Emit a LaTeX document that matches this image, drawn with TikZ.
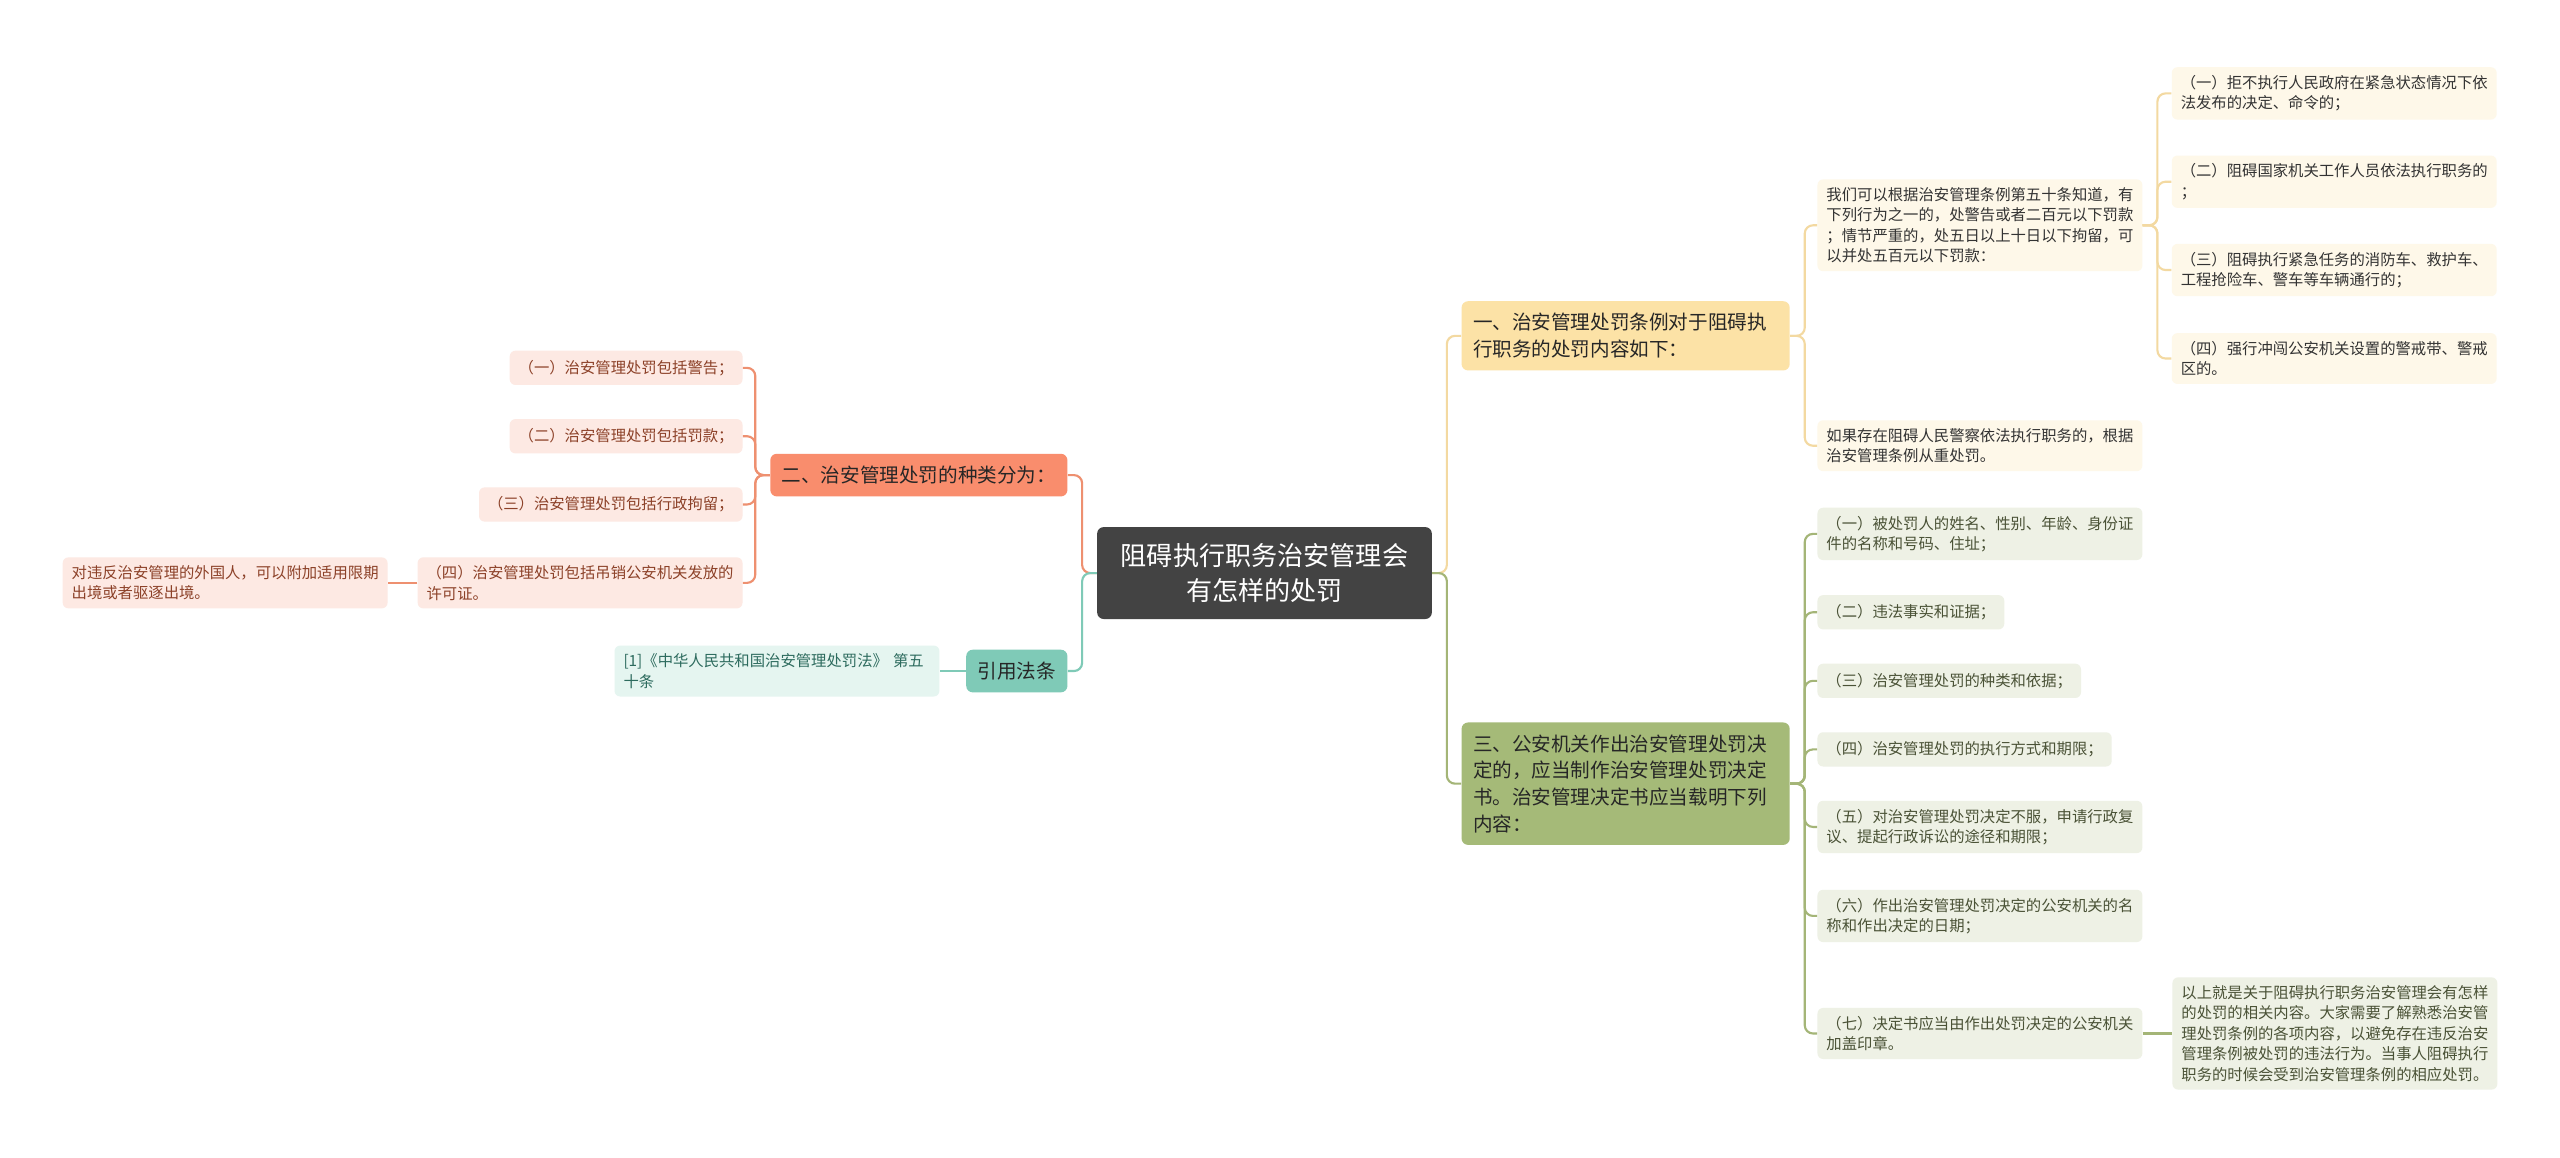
\documentclass[tikz,border=0pt]{standalone}
\usepackage{fontspec}
\setmainfont{Noto Sans CJK SC}
\usepackage{tikz}
\usetikzlibrary{positioning}
\definecolor{rootgray}{HTML}{434343}
\definecolor{ytopic}{HTML}{FCE2A6}
\definecolor{yleaf}{HTML}{FEF8E9}
\definecolor{yline}{HTML}{F3D9A1}
\definecolor{otopic}{HTML}{A5BA78}
\definecolor{oleaf}{HTML}{EEF1E5}
\definecolor{oline}{HTML}{A4B577}
\definecolor{otext}{HTML}{4A5236}
\definecolor{stopic}{HTML}{F98D6D}
\definecolor{sleaf}{HTML}{FDE9E3}
\definecolor{sline}{HTML}{EE9070}
\definecolor{stext}{HTML}{8C4128}
\definecolor{ttopic}{HTML}{7FCAB7}
\definecolor{tleaf}{HTML}{E5F5F0}
\definecolor{ttext}{HTML}{2D6B5E}

\begin{document}
\begin{tikzpicture}[x=1pt, y=-1pt,
	rootbox/.style={fill=rootgray, text=white, rounded corners=4pt, align=center, text width=177pt,
		inner xsep=14pt, inner ysep=10pt, font=\fontsize{16}{21.5}\selectfont},
	topic/.style={rounded corners=4pt, align=left, inner xsep=7pt, inner ysep=7.5pt, minimum height=26pt,
		text=black!85, font=\fontsize{12}{16.3}\selectfont},
	leaf/.style={rounded corners=3.5pt, align=left, inner xsep=5.5pt, inner ysep=5pt, minimum height=21pt,
		font=\fontsize{9.4}{12.5}\selectfont},
	wide/.style={text width=188pt},
	rtree/.style={draw=#1, line width=1.3pt, rounded corners=5pt, to path={-- ++(9pt,0) |- (\tikztotarget)}},
	ltree/.style={draw=#1, line width=1.3pt, rounded corners=5pt, to path={-- ++(-9pt,0) |- (\tikztotarget)}}]
	\fill[white] (0,0) rectangle (1568,709);
	
	\node[rootbox] (0) at (774.5,351) {阻碍执行职务治安管理会\\有怎样的处罚};
	
	\node[topic, fill=ytopic, text width=187pt, anchor=west] (1) at (895,205.7) {一、治安管理处罚条例对于阻碍执\\行职务的处罚内容如下：};
	\node[leaf, wide, fill=yleaf, text=black!80, anchor=west] (11) at (1113,138) {我们可以根据治安管理条例第五十条知道，有\\下列行为之一的，处警告或者二百元以下罚款\\；情节严重的，处五日以上十日以下拘留，可\\以并处五百元以下罚款：};
	\node[leaf, wide, fill=yleaf, text=black!80, anchor=west] (12) at (1113,273) {如果存在阻碍人民警察依法执行职务的，根据\\治安管理条例从重处罚。};
	\node[leaf, wide, fill=yleaf, text=black!80, anchor=west] (111) at (1330,57.2) {（一）拒不执行人民政府在紧急状态情况下依\\法发布的决定、命令的；};
	\node[leaf, wide, fill=yleaf, text=black!80, anchor=west] (112) at (1330,111.3) {（二）阻碍国家机关工作人员依法执行职务的\\；};
	\node[leaf, wide, fill=yleaf, text=black!80, anchor=west] (113) at (1330,165.4) {（三）阻碍执行紧急任务的消防车、救护车、\\工程抢险车、警车等车辆通行的；};
	\node[leaf, wide, fill=yleaf, text=black!80, anchor=west] (114) at (1330,219.6) {（四）强行冲闯公安机关设置的警戒带、警戒\\区的。};
	
	\node[topic, fill=otopic, text width=187pt, anchor=west] (2) at (895,480) {三、公安机关作出治安管理处罚决\\定的，应当制作治安管理处罚决定\\书。治安管理决定书应当载明下列\\内容：};
	\node[leaf, wide, fill=oleaf, text=otext, anchor=west] (21) at (1113,327) {（一）被处罚人的姓名、性别、年龄、身份证\\件的名称和号码、住址；};
	\node[leaf, fill=oleaf, text=otext, anchor=west] (22) at (1113,375) {（二）违法事实和证据；};
	\node[leaf, fill=oleaf, text=otext, anchor=west] (23) at (1113,417) {（三）治安管理处罚的种类和依据；};
	\node[leaf, fill=oleaf, text=otext, anchor=west] (24) at (1113,459) {（四）治安管理处罚的执行方式和期限；};
	\node[leaf, wide, fill=oleaf, text=otext, anchor=west] (25) at (1113,506.5) {（五）对治安管理处罚决定不服，申请行政复\\议、提起行政诉讼的途径和期限；};
	\node[leaf, wide, fill=oleaf, text=otext, anchor=west] (26) at (1113,561) {（六）作出治安管理处罚决定的公安机关的名\\称和作出决定的日期；};
	\node[leaf, wide, fill=oleaf, text=otext, anchor=west] (27) at (1113,633) {（七）决定书应当由作出处罚决定的公安机关\\加盖印章。};
	\node[leaf, wide, fill=oleaf, text=otext] (271) [right=18pt of 27] {以上就是关于阻碍执行职务治安管理会有怎样\\的处罚的相关内容。大家需要了解熟悉治安管\\理处罚条例的各项内容，以避免存在违反治安\\管理条例被处罚的违法行为。当事人阻碍执行\\职务的时候会受到治安管理条例的相应处罚。};
	
	\node[topic, fill=stopic, anchor=east] (3) at (654,291) {二、治安管理处罚的种类分为：};
	\node[leaf, fill=sleaf, text=stext, anchor=east] (31) at (455,225.3) {（一）治安管理处罚包括警告；};
	\node[leaf, fill=sleaf, text=stext, anchor=east] (32) at (455,267.2) {（二）治安管理处罚包括罚款；};
	\node[leaf, fill=sleaf, text=stext, anchor=east] (33) at (455,309) {（三）治安管理处罚包括行政拘留；};
	\node[leaf, wide, fill=sleaf, text=stext, anchor=east] (34) at (455,357) {（四）治安管理处罚包括吊销公安机关发放的\\许可证。};
	\node[leaf, wide, fill=sleaf, text=stext] (341) [left=18pt of 34] {对违反治安管理的外国人，可以附加适用限期\\出境或者驱逐出境。};
	
	\node[topic, fill=ttopic, anchor=east] (4) at (654,411) {引用法条};
	\node[leaf, wide, fill=tleaf, text=ttext] (41) [left=16pt of 4] {[1]《中华人民共和国治安管理处罚法》 第五\\十条};
	
	\path (0.east) edge[rtree=yline] (1.west)
	(0.east) edge[rtree=oline] (2.west)
	(1.east) edge[rtree=yline] (11.west)
	(1.east) edge[rtree=yline] (12.west)
	(11.east) edge[rtree=yline] (111.west)
	(11.east) edge[rtree=yline] (112.west)
	(11.east) edge[rtree=yline] (113.west)
	(11.east) edge[rtree=yline] (114.west);
	\foreach \k in {21,...,27}
	\path (2.east) edge[rtree=oline] (\k.west);
	\path[draw=oline, line width=1.3pt] (27.east) -- (271.west);
	
	\path (0.west) edge[ltree=sline] (3.east)
	(0.west) edge[ltree=ttopic] (4.east);
	\foreach \k in {31,...,34}
	\path (3.west) edge[ltree=sline] (\k.east);
	\path[draw=sline, line width=1.3pt] (34.west) -- (341.east);
	\path[draw=ttopic, line width=1.3pt] (4.west) -- (41.east);
\end{tikzpicture}
\end{document}
